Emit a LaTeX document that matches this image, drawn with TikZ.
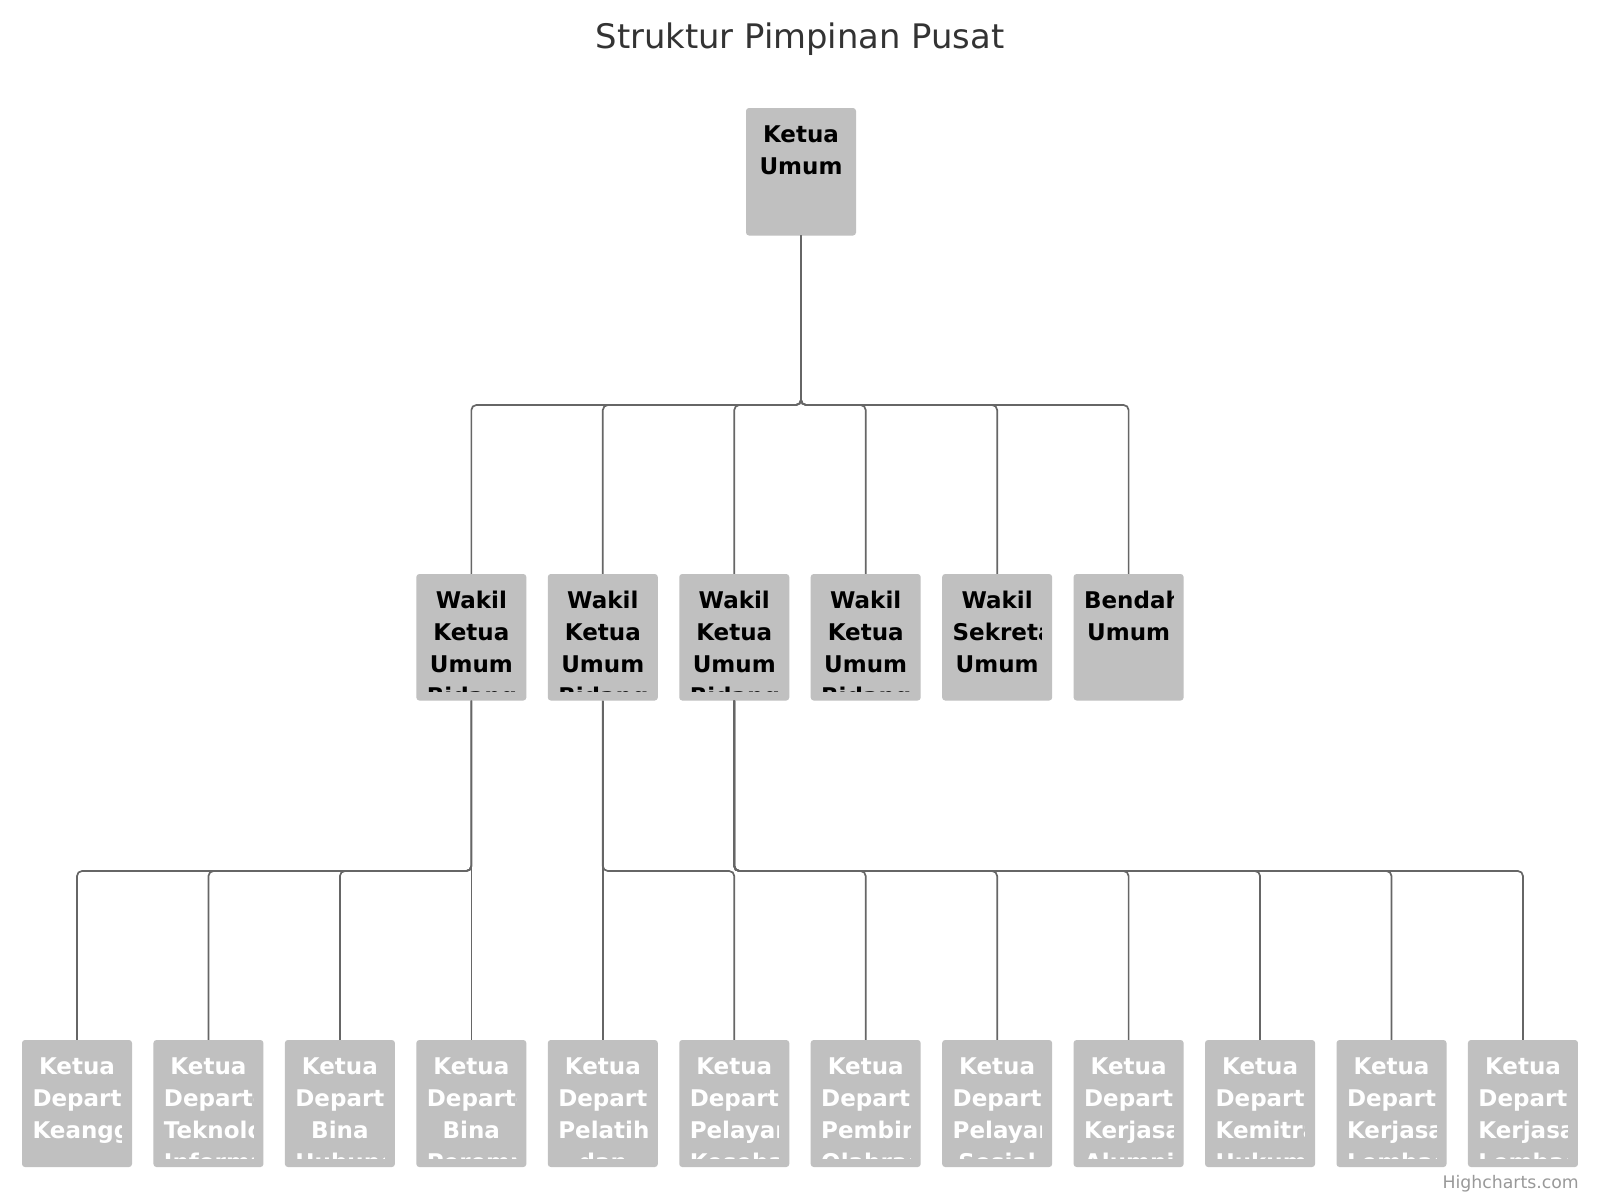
\documentclass[tikz,border=0pt]{standalone}
\usepackage{fontspec}
\setmainfont{DejaVu Sans}
\usetikzlibrary{calc}
\definecolor{boxgray}{HTML}{C0C0C0}
\definecolor{linkgray}{HTML}{666666}
\definecolor{titlegray}{HTML}{333333}
\definecolor{creditgray}{HTML}{999999}
\newcommand\orglines[1]{\vtop{\baselineskip=32pt\lineskiplimit=-100pt\lineskip=0pt
  \foreach \w in {#1}{\hbox to 89pt{\hfil\w\hfil}}}}
\newcommand\orgunit[6]{%
  \node[orgbox, minimum height=#4pt] (#1) at (#2,#3) {};
  \begin{scope}
    \clip ($(#1.north west)+(10.5,0)$) rectangle ($(#1.south east)+(-10.5,-9)$);
    \node[orgtext, text=#5] (#1-txt) at ($(#1.north west)+(10.5,35)$) {\orglines{#6}};
  \end{scope}}
\tikzset{
  orgbox/.style={rectangle, fill=boxgray, draw=none, rounded corners=3pt, minimum width=110pt, inner sep=0pt},
  orgtext/.style={anchor=base west, inner sep=0pt, font=\bfseries\fontsize{23}{32}\selectfont},
  link/.style={draw=linkgray, line width=1.7pt, rounded corners=5pt}
}
\hbadness=10000 \hfuzz=200pt
\begin{document}
\begin{tikzpicture}[x=1pt, y=-1pt]
\fill[white] (0,0) rectangle (1600,1200);
\useasboundingbox (0,0) rectangle (1600,1200);

\node[font=\fontsize{33.8}{40}\selectfont, text=titlegray, anchor=base, inner sep=0pt] (title) at (800,48) {Struktur Pimpinan Pusat};
\node[font=\fontsize{17.3}{20}\selectfont, text=creditgray, anchor=base east, inner sep=0pt] (credit) at (1579,1188) {Highcharts.com};

% top
\orgunit{top}{801}{171.75}{127.5}{black}{Ketua,Umum}
% middle level
\orgunit{m1}{471.35}{637.25}{126.5}{black}{Wakil,Ketua,Umum,Bidang}
\orgunit{m2}{602.8}{637.25}{126.5}{black}{Wakil,Ketua,Umum,Bidang}
\orgunit{m3}{734.25}{637.25}{126.5}{black}{Wakil,Ketua,Umum,Bidang}
\orgunit{m4}{865.7}{637.25}{126.5}{black}{Wakil,Ketua,Umum,Bidang}
\orgunit{m5}{997.15}{637.25}{126.5}{black}{Wakil,Sekretaris,Umum}
\orgunit{m6}{1128.6}{637.25}{126.5}{black}{Bendahara,Umum}
% bottom level
\orgunit{b0}{77}{1103.5}{127}{white}{Ketua,Departemen,Keanggotaan}
\orgunit{b1}{208.45}{1103.5}{127}{white}{Ketua,Departemen,Teknologi,Informasi}
\orgunit{b2}{339.9}{1103.5}{127}{white}{Ketua,Departemen,Bina,Hubungan}
\orgunit{b3}{471.35}{1103.5}{127}{white}{Ketua,Departemen,Bina,Perempuan}
\orgunit{b4}{602.8}{1103.5}{127}{white}{Ketua,Departemen,Pelatihan,dan}
\orgunit{b5}{734.25}{1103.5}{127}{white}{Ketua,Departemen,Pelayanan,Kesehatan}
\orgunit{b6}{865.7}{1103.5}{127}{white}{Ketua,Departemen,Pembinaan,Olahraga}
\orgunit{b7}{997.15}{1103.5}{127}{white}{Ketua,Departemen,Pelayanan,Sosial}
\orgunit{b8}{1128.6}{1103.5}{127}{white}{Ketua,Departemen,Kerjasama,Alumni}
\orgunit{b9}{1260.05}{1103.5}{127}{white}{Ketua,Departemen,Kemitraan,Hukum}
\orgunit{b10}{1391.5}{1103.5}{127}{white}{Ketua,Departemen,Kerjasama,Lembaga}
\orgunit{b11}{1522.95}{1103.5}{127}{white}{Ketua,Departemen,Kerjasama,Lembaga}

\coordinate (ya) at (0,405);
\coordinate (yb) at (0,871);

% connectors
\foreach \c in {m1,m2,m3,m4,m5,m6}
  \draw[link] (top.south) -- (top.south |- ya) -| (\c.north);
\foreach \c in {b0,b1,b2}
  \draw[link] (m1.south) -- (m1.south |- yb) -| (\c.north);
\draw[link] (m1.south) -- (b3.north);
\draw[link] (m2.south) -- (b4.north);
\draw[link] (m2.south) -- (m2.south |- yb) -| (b5.north);
\foreach \c in {b6,b7,b8,b9,b10,b11}
  \draw[link] (m3.south) -- (m3.south |- yb) -| (\c.north);
\end{tikzpicture}
\end{document}
